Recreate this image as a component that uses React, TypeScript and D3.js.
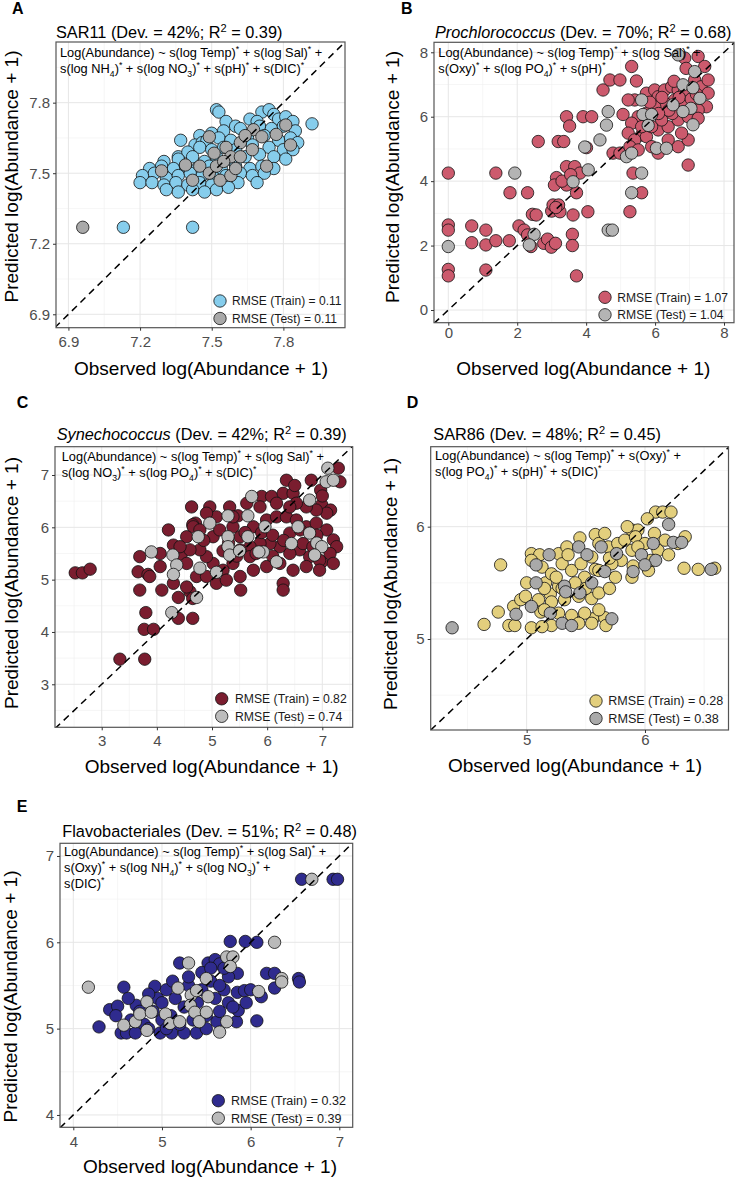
import React, { useEffect, useRef } from 'react'
import * as d3 from 'd3'

type Pt = [number, number]

const FONT = '"Liberation Sans", Arial, Helvetica, sans-serif'

// observed vs predicted log(abundance + 1), training and held-out samples
const sar11Train: Pt[] = [
  [7.52, 7.77], [7.53, 7.76], [7.71, 7.76], [7.74, 7.77], [7.76, 7.75],
  [7.56, 7.72], [7.60, 7.70], [7.66, 7.73], [7.69, 7.72], [7.78, 7.73], [7.81, 7.74], [7.84, 7.72], [7.92, 7.71],
  [7.37, 7.64], [7.45, 7.66], [7.50, 7.67], [7.55, 7.68], [7.62, 7.69], [7.70, 7.70], [7.75, 7.69], [7.80, 7.70], [7.85, 7.68],
  [7.43, 7.62], [7.46, 7.63], [7.48, 7.64], [7.53, 7.65], [7.58, 7.64], [7.65, 7.65], [7.72, 7.66], [7.78, 7.64], [7.83, 7.65], [7.86, 7.63],
  [7.36, 7.57], [7.40, 7.59], [7.45, 7.61], [7.50, 7.60], [7.55, 7.61], [7.60, 7.60], [7.67, 7.62], [7.74, 7.61], [7.80, 7.60], [7.84, 7.60],
  [7.30, 7.55], [7.36, 7.56], [7.42, 7.57], [7.47, 7.55], [7.52, 7.57], [7.58, 7.56], [7.64, 7.57], [7.70, 7.58], [7.76, 7.57], [7.81, 7.56],
  [7.24, 7.52], [7.29, 7.53], [7.34, 7.52], [7.39, 7.53], [7.44, 7.52], [7.49, 7.53], [7.54, 7.52], [7.60, 7.53], [7.66, 7.52], [7.71, 7.53], [7.76, 7.52],
  [7.21, 7.49], [7.26, 7.50], [7.31, 7.48], [7.36, 7.49], [7.41, 7.50], [7.46, 7.49], [7.51, 7.48], [7.56, 7.49], [7.62, 7.50], [7.67, 7.49], [7.72, 7.50],
  [7.20, 7.46], [7.25, 7.46], [7.30, 7.45], [7.35, 7.46], [7.40, 7.45], [7.45, 7.46], [7.50, 7.45], [7.55, 7.46], [7.61, 7.46], [7.69, 7.46],
  [7.31, 7.43], [7.36, 7.42], [7.42, 7.43], [7.47, 7.42], [7.52, 7.43], [7.57, 7.44],
  [7.13, 7.27], [7.42, 7.27],
]
const sar11Test: Pt[] = [
  [7.29, 7.51], [7.39, 7.535], [7.42, 7.47], [7.45, 7.53], [7.49, 7.50], [7.49, 7.655], [7.51, 7.585], [7.52, 7.53],
  [7.535, 7.47], [7.56, 7.61], [7.58, 7.57], [7.58, 7.49], [7.62, 7.63], [7.62, 7.57], [7.67, 7.60], [7.675, 7.685],
  [7.71, 7.655], [7.73, 7.53], [7.77, 7.665], [7.81, 7.705], [7.83, 7.62], [7.60, 7.52], [7.55, 7.55], [7.64, 7.66],
  [6.96, 7.27],
]

const prochTrain: Pt[] = [
  [0, 4.25], [0, 2.64], [0, 2.48], [0, 1.26], [0, 1.06], [0.68, 2.61], [0.68, 2.09], [1.09, 2.48], [1.09, 2.02], [1.09, 1.24],
  [1.38, 2.15], [1.77, 2.15], [1.38, 4.25], [1.79, 3.64], [2.30, 3.64],
  [2.05, 2.61], [2.20, 2.48], [2.30, 2.33], [2.40, 1.97], [2.44, 2.97], [2.55, 2.95], [2.77, 2.07], [2.88, 2.20], [2.99, 1.95], [3.11, 2.07],
  [3.00, 3.07], [3.24, 3.05], [3.04, 3.26], [3.20, 3.26], [3.12, 3.18], [3.60, 2.35], [3.60, 2.00], [3.62, 2.95], [4.05, 3.05], [5.27, 3.05], [3.72, 1.06],
  [2.61, 5.23], [3.19, 5.23], [3.35, 5.23], [3.43, 6.00], [3.91, 6.00], [4.16, 6.00], [3.52, 5.71], [4.01, 5.04],
  [3.14, 4.11], [3.43, 4.45], [3.67, 4.45], [3.82, 4.25], [3.43, 3.88], [3.08, 3.88], [3.72, 3.64], [3.30, 4.00], [3.55, 4.20],
  [4.49, 6.83], [4.69, 7.14], [4.98, 7.14], [5.32, 7.56], [5.46, 7.11], [4.78, 4.87], [4.98, 4.87], [5.07, 6.07], [5.41, 6.52],
  [5.61, 5.43], [5.36, 4.25], [5.61, 3.64],
  [5.22, 6.52], [5.75, 6.73], [5.99, 6.83], [6.09, 6.62], [6.28, 6.83], [6.48, 6.93], [6.67, 6.83], [6.86, 6.83], [7.15, 7.14],
  [7.34, 6.93], [7.54, 6.73], [7.49, 6.31], [7.25, 6.21], [6.86, 6.42], [6.57, 6.52], [6.28, 6.42], [5.99, 6.31], [5.75, 6.11],
  [5.51, 6.00], [5.32, 5.80], [5.22, 5.49], [5.41, 5.28], [5.75, 5.38], [6.09, 5.59], [6.38, 5.69], [6.67, 5.90], [6.96, 6.00],
  [7.25, 5.95], [6.19, 5.90], [5.90, 5.69], [5.61, 5.69], [5.27, 5.07], [5.51, 4.97], [5.90, 5.07], [6.67, 5.07], [6.96, 5.28],
  [6.38, 5.28], [6.77, 5.49], [6.96, 4.50], [7.25, 7.87], [6.86, 7.82], [7.44, 7.56], [6.90, 7.50], [7.54, 7.14], [6.09, 4.87],
  [6.50, 6.10], [6.70, 6.60], [7.05, 6.55], [6.40, 6.20], [6.10, 6.10], [5.85, 6.45], [7.20, 6.70], [6.55, 7.10], [6.20, 6.60],
]
const prochTest: Pt[] = [
  [0, 1.97], [1.93, 4.25], [2.49, 2.35], [2.35, 2.02], [4.64, 2.48], [4.76, 2.48], [3.62, 3.98], [4.06, 4.35], [3.96, 5.06],
  [4.64, 6.16], [4.59, 5.74], [4.40, 5.28], [5.17, 4.76], [5.32, 4.87], [5.61, 6.52], [5.65, 6.07], [5.90, 6.07], [5.80, 5.73],
  [5.61, 4.25], [5.32, 3.64], [6.67, 7.92], [7.15, 7.40], [6.81, 6.99], [7.10, 6.90], [7.30, 6.57], [7.04, 6.26], [6.81, 6.16],
  [6.52, 6.37], [7.10, 5.75], [6.04, 5.02], [6.33, 5.02],
]

const synTrain: Pt[] = [
  [2.52, 5.13], [2.65, 5.13], [2.79, 5.20], [3.69, 5.44], [3.66, 5.15], [3.84, 5.10], [4.06, 5.50], [4.21, 5.95], [4.30, 5.66],
  [4.44, 5.47], [4.63, 6.39], [4.96, 6.39], [4.70, 6.08], [4.65, 6.05], [5.32, 6.39], [5.47, 6.22], [5.90, 6.59], [6.08, 6.59],
  [6.29, 6.65], [6.47, 6.65], [6.35, 6.90], [6.80, 6.90], [6.99, 6.43], [7.29, 7.13], [7.32, 6.87], [6.97, 6.71], [7.15, 6.33],
  [6.29, 4.93], [6.99, 5.34],
  [3.69, 4.80], [4.09, 4.80], [4.39, 4.66], [4.60, 4.77], [4.65, 4.64], [3.80, 4.37], [4.39, 4.26], [4.65, 4.26], [3.77, 4.05],
  [3.94, 4.05], [3.33, 3.48], [3.78, 3.48], [5.52, 4.80], [6.29, 4.80],
  [4.66, 6.01], [4.78, 5.95], [5.02, 5.82], [5.14, 5.95], [5.38, 6.01], [5.51, 5.82], [5.75, 6.01], [5.99, 6.14], [6.17, 6.20],
  [6.35, 6.20], [6.53, 6.14], [6.71, 6.01], [6.89, 6.08], [7.08, 5.95], [7.20, 5.76], [7.26, 5.63], [7.14, 5.50], [6.95, 5.37],
  [6.77, 5.44], [6.59, 5.57], [6.41, 5.50], [6.23, 5.63], [6.05, 5.69], [5.87, 5.69], [5.69, 5.63], [5.51, 5.57], [5.38, 5.31],
  [5.20, 5.18], [5.02, 5.31], [4.90, 5.44], [4.78, 5.57], [4.60, 5.57], [4.54, 5.31], [4.72, 5.06], [4.90, 5.06], [5.08, 4.93],
  [5.26, 4.99], [5.51, 5.06], [5.75, 5.18], [5.99, 5.25], [6.23, 5.31], [6.47, 5.18], [6.71, 5.25], [6.95, 5.18], [7.20, 5.31],
  [7.08, 6.27], [6.89, 6.33], [6.71, 6.39], [6.53, 6.46], [6.41, 6.39], [6.17, 6.46], [5.87, 6.39], [5.63, 6.46], [5.38, 6.20],
  [5.08, 6.20], [4.90, 6.27], [4.54, 5.82], [4.42, 5.63], [4.06, 5.25], [3.87, 5.06], [4.30, 4.93], [4.54, 4.86], [5.69, 5.44],
  [6.41, 5.89], [6.65, 5.69], [6.83, 5.63], [5.30, 5.70], [5.60, 5.90], [5.90, 5.90], [6.10, 5.85], [6.30, 5.75], [5.45, 5.45],
  [5.80, 5.50], [6.10, 5.45], [4.85, 5.75], [5.20, 5.55], [6.60, 5.95], [6.90, 5.85], [6.50, 6.80], [7.00, 6.60],
]
const synTest: Pt[] = [
  [3.90, 5.53], [4.29, 5.47], [4.36, 5.28], [4.30, 5.10], [4.96, 6.08], [4.75, 5.82], [5.29, 6.22], [5.65, 6.22], [5.29, 5.82],
  [5.65, 5.82], [5.29, 5.63], [5.32, 5.47], [4.78, 5.22], [5.08, 5.14], [5.72, 6.59], [6.77, 6.52], [7.10, 7.13], [7.07, 6.87],
  [7.20, 6.90], [5.96, 6.01], [6.44, 5.69], [6.56, 6.01], [6.77, 5.89], [6.90, 5.70], [6.99, 5.63], [6.86, 5.47], [6.17, 5.34],
  [5.93, 5.53], [5.85, 5.53], [4.72, 4.66], [4.27, 4.37], [5.50, 5.55],
]

const sar86Train: Pt[] = [
  [4.78, 5.66], [5.04, 5.76], [5.11, 5.75], [5.27, 5.76], [5.34, 5.82], [5.58, 5.93], [5.89, 5.97], [5.94, 5.97], [6.09, 6.13],
  [6.15, 6.13], [6.22, 6.13], [6.33, 5.63], [6.45, 5.62], [6.59, 5.63], [5.16, 5.50], [5.58, 5.62],
  [4.64, 5.13], [4.76, 5.24], [4.89, 5.29], [4.85, 5.12], [4.90, 5.12], [5.04, 5.10], [5.12, 5.24], [5.43, 5.15], [5.56, 5.18],
  [5.66, 5.19], [5.67, 5.12], [5.20, 5.40], [4.95, 5.35],
  [5.04, 5.70], [5.13, 5.64], [5.21, 5.58], [5.30, 5.67], [5.38, 5.61], [5.46, 5.67], [5.55, 5.73], [5.61, 5.85], [5.69, 5.82],
  [5.77, 5.85], [5.83, 5.88], [5.92, 5.91], [6.00, 5.85], [5.89, 5.79], [5.80, 5.70], [5.72, 5.67], [5.61, 5.61], [5.49, 5.55],
  [5.41, 5.50], [5.27, 5.47], [5.75, 5.55], [5.89, 5.55], [6.03, 5.61], [6.11, 5.79], [6.17, 5.88], [6.28, 5.85], [6.34, 5.91],
  [6.08, 5.94], [5.94, 5.82], [5.66, 5.94],
  [4.99, 5.38], [5.10, 5.35], [5.21, 5.33], [5.32, 5.35], [5.44, 5.38], [5.55, 5.36], [5.61, 5.41], [5.15, 5.26], [5.27, 5.23],
  [5.38, 5.21], [5.49, 5.23], [5.61, 5.26], [5.44, 5.14], [5.21, 5.12], [5.13, 5.11], [5.55, 5.14],
  [5.30, 5.45], [5.50, 5.45], [5.70, 5.45], [5.00, 5.50], [5.15, 5.45], [5.90, 5.65], [6.05, 5.70], [5.35, 5.75], [5.45, 5.90],
  [5.70, 5.72], [5.25, 5.55], [6.20, 5.75], [5.85, 6.00], [6.02, 6.07],
]
const sar86Test: Pt[] = [
  [5.19, 5.75], [5.44, 5.82], [5.63, 5.82], [5.51, 5.75], [5.76, 5.76], [5.97, 5.75], [6.07, 5.85], [6.09, 5.70], [6.00, 5.66],
  [6.20, 6.02], [6.24, 5.86], [6.31, 5.86], [6.56, 5.62], [5.08, 5.66], [5.08, 5.50], [5.32, 5.47], [5.66, 5.60], [4.37, 5.10],
  [4.91, 5.22], [5.04, 5.29], [5.20, 5.23], [5.30, 5.14], [5.38, 5.12], [5.72, 5.18], [5.45, 5.41], [5.33, 5.42], [5.90, 5.60],
  [5.55, 5.50],
]

const flavoTrain: Pt[] = [
  [6.575, 6.73], [6.93, 6.73], [6.98, 6.73], [5.77, 6.01], [5.94, 6.01], [6.07, 6.00], [5.20, 5.76], [5.52, 5.76], [5.60, 5.80],
  [5.65, 5.75], [5.85, 5.64], [6.18, 5.64], [6.27, 5.64], [6.54, 5.58],
  [4.29, 5.02], [4.41, 5.22], [4.50, 5.26], [4.48, 5.15], [4.57, 5.48], [4.54, 4.95], [4.71, 5.27], [4.60, 4.95], [4.70, 4.95],
  [4.92, 5.49], [4.95, 5.35], [4.98, 4.95], [5.11, 4.95], [5.25, 4.95], [5.39, 4.95], [5.62, 5.08], [5.84, 5.08], [5.86, 5.21],
  [5.85, 5.42], [5.93, 5.44], [6.12, 5.37], [6.07, 5.09], [6.27, 5.47], [6.55, 5.54],
  [4.65, 5.10], [4.80, 5.05], [4.85, 5.40], [4.90, 5.20], [5.00, 5.30], [5.05, 5.45], [5.10, 5.15], [5.15, 5.35], [5.20, 5.05],
  [5.25, 5.25], [5.30, 5.50], [5.35, 5.10], [5.40, 5.30], [5.45, 5.45], [5.50, 5.15], [5.55, 5.55], [5.60, 5.35], [5.65, 5.20],
  [5.70, 5.45], [5.75, 5.60], [5.75, 5.30], [5.00, 5.10], [4.75, 5.20], [4.62, 5.35], [5.12, 5.55], [5.30, 5.60], [5.45, 5.65],
  [5.65, 5.50], [5.80, 5.25], [5.50, 5.00], [5.05, 5.00], [4.85, 5.00], [5.95, 5.30], [6.00, 5.45], [5.55, 5.70], [5.70, 5.70],
]
const flavoTest: Pt[] = [
  [6.69, 6.73], [6.27, 6.00], [5.30, 5.76], [5.73, 5.83], [5.80, 5.83], [5.77, 5.72], [6.35, 5.58], [5.50, 5.58], [4.17, 5.48],
  [4.57, 5.04], [4.70, 5.08], [4.75, 5.17], [4.83, 5.31], [4.88, 5.19], [4.83, 4.98], [5.04, 5.17], [5.09, 5.06], [5.20, 5.08],
  [5.18, 5.47], [5.33, 5.39], [5.32, 5.27], [5.37, 5.19], [5.42, 5.08], [5.52, 5.37], [5.50, 5.19], [5.39, 5.44], [5.65, 4.96],
  [5.73, 5.08], [6.09, 5.43], [6.35, 5.54],
]

// per-panel summaries
const panelLetters = ['A', 'B', 'C', 'D', 'E']
const taxa = ['SAR11', 'Prochlorococcus', 'Synechococcus', 'SAR86', 'Flavobacteriales']
const italicName = [false, true, true, false, false]
const devPct = [42, 70, 42, 48, 51]
const r2 = [0.39, 0.68, 0.39, 0.45, 0.48]
const rmseTrain = [0.11, 1.07, 0.82, 0.28, 0.32]
const rmseTest = [0.11, 1.04, 0.74, 0.38, 0.39]
const tickSets = [[6.9, 7.2, 7.5, 7.8], [0, 2, 4, 6, 8], [3, 4, 5, 6, 7], [5, 6], [4, 5, 6, 7]]
const formulas = [
  ['Log(Abundance) ~ s(log Temp)^{*} + s(log Sal)^{*} +', 's(log NH_{4})^{*} + s(log NO_{3})^{*} + s(pH)^{*} + s(DIC)^{*}'],
  ['Log(Abundance) ~ s(log Temp)^{*} + s(log Sal)^{*} +', 's(Oxy)^{*} + s(log PO_{4})^{*} + s(pH)^{*}'],
  ['Log(Abundance) ~ s(log Temp)^{*} + s(log Sal)^{*} +', 's(log NO_{3})^{*} + s(log PO_{4})^{*} + s(DIC)^{*}'],
  ['Log(Abundance) ~ s(log Temp)^{*} + s(Oxy)^{*} +', 's(log PO_{4})^{*} + s(pH)^{*} + s(DIC)^{*}'],
  ['Log(Abundance) ~ s(log Temp)^{*} + s(log Sal)^{*} +', 's(Oxy)^{*} + s(log NH_{4})^{*} + s(log NO_{3})^{*} +', 's(DIC)^{*}'],
]
const trainSets = [sar11Train, prochTrain, synTrain, sar86Train, flavoTrain]
const testSets = [sar11Test, prochTest, synTest, sar86Test, flavoTest]
const trainFill = ['#86cdec', '#cc5a6d', '#7a1d2f', '#e3cf7d', '#2f2b8e']
const testFill = ['#a9a9a9', '#b4b4b4', '#bcbcbc', '#a9a9a9', '#bababa']

// panel geometry (pixels); legend = [circle x, first row y, text x, text width]
const layouts = [
  { box: [56, 345, 42, 327.7], xDom: [6.848, 8.058], yDom: [6.843, 8.058], letter: [12, 14], title: [56, 37.7], formula: [60, 57.3], legend: [220, 301, 232, 109.5], xLab: [201, 375], yLab: [18, 176.5], xPad: 5.3 },
  { box: [434, 734, 42.3, 322.7], xDom: [-0.415, 8.29], yDom: [-0.394, 8.31], letter: [401, 14], title: [435, 37.7], formula: [438.3, 57.3], legend: [605, 297.3, 617.3, 110.7], xLab: [583.3, 375], yLab: [398.5, 177], xPad: 2 },
  { box: [55, 352.7, 446.7, 727.3], xDom: [2.153, 7.551], yDom: [2.178, 7.541], letter: [16.7, 408.3], title: [56.7, 440], formula: [61.7, 460.7], legend: [221.7, 698.8, 235, 111.7], xLab: [211.7, 773.3], yLab: [17.5, 583], xPad: 5 },
  { box: [430.7, 728.5, 446.7, 730], xDom: [4.189, 6.706], yDom: [4.19, 6.712], letter: [406.7, 408.3], title: [433.3, 440], formula: [435, 460], legend: [596, 701, 608.3, 115], xLab: [575, 771.7], yLab: [397, 584], xPad: 1.4 },
  { box: [60, 352.7, 843.3, 1127.3], xDom: [3.85, 7.151], yDom: [3.857, 7.147], letter: [16.7, 811.7], title: [62.3, 836.7], formula: [64, 856], legend: [218.3, 1100.7, 231, 115], xLab: [210, 1172.7], yLab: [17, 996.5], xPad: 5.7 },
]

const fmt2 = d3.format('.2f')

// text with _{sub} and ^{sup} runs
function rich(text: any, src: string, size: number) {
  let shift = 0
  src.split(/(_\{[^}]*\}|\^\{[^}]*\})/).filter(s => s.length).forEach(s => {
    let target = 0
    let fs = size
    let str = s
    if (s[0] === '_' && s[1] === '{') { target = size * 0.3; fs = size * 0.68; str = s.slice(2, -1) }
    else if (s[0] === '^' && s[1] === '{') { target = -size * 0.38; fs = size * 0.68; str = s.slice(2, -1) }
    text.append('tspan').attr('dy', target - shift).attr('font-size', fs).text(str)
    shift = target
  })
}

function drawPanel(root: any, i: number) {
  const L = layouts[i]
  const [x0, x1, y0, y1] = L.box
  const x = d3.scaleLinear().domain(L.xDom).range([x0, x1])
  const y = d3.scaleLinear().domain(L.yDom).range([y1, y0])
  const ticks = tickSets[i]
  const step = ticks[1] - ticks[0]
  const minor = d3.range(ticks[0] - step / 2, ticks[ticks.length - 1] + step, step)
  const fmt = step < 1 ? d3.format('.1f') : d3.format('d')
  const inside = (dom: number[]) => (v: number) => v >= dom[0] && v <= dom[1]

  const g = root.append('g')

  // grid
  const grid = g.append('g').attr('fill', 'none')
  grid.selectAll('.vmin').data(minor.filter(inside(L.xDom))).join('line')
    .attr('x1', (d: number) => x(d)).attr('x2', (d: number) => x(d)).attr('y1', y0).attr('y2', y1)
    .attr('stroke', '#f0f0f0').attr('stroke-width', 0.6)
  grid.selectAll('.hmin').data(minor.filter(inside(L.yDom))).join('line')
    .attr('y1', (d: number) => y(d)).attr('y2', (d: number) => y(d)).attr('x1', x0).attr('x2', x1)
    .attr('stroke', '#f0f0f0').attr('stroke-width', 0.6)
  grid.selectAll('.vmaj').data(ticks).join('line')
    .attr('x1', (d: number) => x(d)).attr('x2', (d: number) => x(d)).attr('y1', y0).attr('y2', y1)
    .attr('stroke', '#e6e6e6').attr('stroke-width', 1)
  grid.selectAll('.hmaj').data(ticks).join('line')
    .attr('y1', (d: number) => y(d)).attr('y2', (d: number) => y(d)).attr('x1', x0).attr('x2', x1)
    .attr('stroke', '#e6e6e6').attr('stroke-width', 1)

  const clipId = `clip-${i}`
  g.append('clipPath').attr('id', clipId)
    .append('rect').attr('x', x0).attr('y', y0).attr('width', x1 - x0).attr('height', y1 - y0)

  const marks = g.append('g').attr('clip-path', `url(#${clipId})`)
  marks.append('g').selectAll('circle').data(trainSets[i]).join('circle')
    .attr('cx', (d: Pt) => x(d[0])).attr('cy', (d: Pt) => y(d[1])).attr('r', 6.2)
    .attr('fill', trainFill[i]).attr('stroke', '#111').attr('stroke-width', 0.8)
  marks.append('g').selectAll('circle').data(testSets[i]).join('circle')
    .attr('cx', (d: Pt) => x(d[0])).attr('cy', (d: Pt) => y(d[1])).attr('r', 6.2)
    .attr('fill', testFill[i]).attr('stroke', '#111').attr('stroke-width', 0.8)

  // 1:1 line
  const lo = Math.min(L.xDom[0], L.yDom[0])
  const hi = Math.max(L.xDom[1], L.yDom[1])
  marks.append('path')
    .attr('d', d3.line<number>().x(v => x(v)).y(v => y(v))([lo, hi]))
    .attr('stroke', '#000').attr('stroke-width', 1.5).attr('stroke-dasharray', '7 5').attr('fill', 'none')

  g.append('rect').attr('x', x0).attr('y', y0).attr('width', x1 - x0).attr('height', y1 - y0)
    .attr('fill', 'none').attr('stroke', '#555').attr('stroke-width', 1.2)

  // axes
  const styleAxis = (a: any) => {
    a.select('.domain').remove()
    a.attr('font-size', 15).attr('font-family', FONT)
    a.selectAll('line').attr('stroke', '#333')
    a.selectAll('text').attr('fill', '#4d4d4d')
  }
  g.append('g').attr('transform', `translate(0,${y1})`)
    .call(d3.axisBottom(x).tickValues(ticks).tickSize(3).tickPadding(L.xPad).tickFormat(fmt as any))
    .call(styleAxis)
  g.append('g').attr('transform', `translate(${x0},0)`)
    .call(d3.axisLeft(y).tickValues(ticks).tickSize(3).tickPadding(3).tickFormat(fmt as any))
    .call(styleAxis)

  // labels
  g.append('text').attr('x', L.letter[0]).attr('y', L.letter[1])
    .attr('font-size', 16).attr('font-weight', 'bold').text(panelLetters[i])

  const title = g.append('text').attr('x', L.title[0]).attr('y', L.title[1]).attr('font-size', 16.3)
  title.append('tspan').attr('font-style', italicName[i] ? 'italic' : 'normal').text(taxa[i])
  rich(title, ` (Dev. = ${devPct[i]}%; R^{2} = ${fmt2(r2[i])})`, 16.3)

  formulas[i].forEach((line, k) => {
    const t = g.append('text').attr('x', L.formula[0]).attr('y', L.formula[1] + k * 16).attr('font-size', 12.8)
    rich(t, line, 12.8)
  })

  const [lcx, lcy, ltx, lw] = L.legend
  const legend = [
    { fill: trainFill[i], label: `RMSE (Train) = ${fmt2(rmseTrain[i])}`, width: lw },
    { fill: testFill[i], label: `RMSE (Test) = ${fmt2(rmseTest[i])}`, width: lw - 4.5 },
  ]
  legend.forEach((d, k) => {
    g.append('circle').attr('cx', lcx).attr('cy', lcy + k * 17.5).attr('r', 6.2)
      .attr('fill', d.fill).attr('stroke', '#111').attr('stroke-width', 0.8)
    g.append('text').attr('x', ltx).attr('y', lcy + k * 17.5 + 4.4).attr('font-size', 12.3)
      .attr('textLength', d.width).attr('lengthAdjust', 'spacingAndGlyphs')
      .attr('fill', '#1a1a1a').text(d.label)
  })

  g.append('text').attr('x', L.xLab[0]).attr('y', L.xLab[1]).attr('text-anchor', 'middle')
    .attr('font-size', 19).text('Observed log(Abundance + 1)')
  g.append('text').attr('transform', `translate(${L.yLab[0]},${L.yLab[1]}) rotate(-90)`)
    .attr('text-anchor', 'middle').attr('font-size', 19).text('Predicted log(Abundance + 1)')
}

export default function App() {
  const node = useRef<SVGSVGElement>(null)

  useEffect(() => {
    const svg = d3.select(node.current)
    svg.selectAll('*').remove()
    const root = svg.append('g').attr('font-family', FONT).style('white-space', 'pre')
    panelLetters.forEach((_, i) => drawPanel(root, i))
  }, [])

  return (
    <svg
      ref={node}
      width={735}
      height={1177}
      viewBox="0 0 735 1177"
      style={{ position: 'absolute', left: 0, top: 0, background: '#fff' }}
    />
  )
}
